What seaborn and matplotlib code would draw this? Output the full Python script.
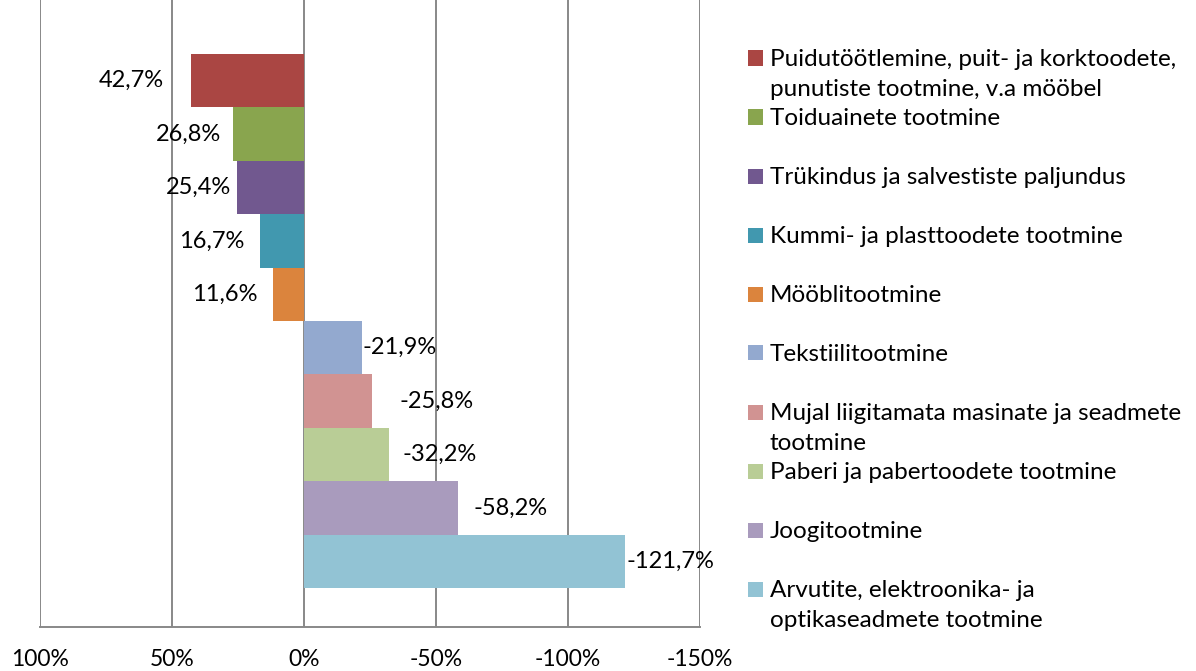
import matplotlib
matplotlib.use("Agg")
import matplotlib.pyplot as plt
import seaborn as sns
import pandas as pd
from matplotlib.patches import Rectangle

categories = [
    "Puidutöötlemine, puit- ja korktoodete,\npunutiste tootmine, v.a mööbel",
    "Toiduainete tootmine",
    "Trükindus ja salvestiste paljundus",
    "Kummi- ja plasttoodete tootmine",
    "Mööblitootmine",
    "Tekstiilitootmine",
    "Mujal liigitamata masinate ja seadmete\ntootmine",
    "Paberi ja pabertoodete tootmine",
    "Joogitootmine",
    "Arvutite, elektroonika- ja\noptikaseadmete tootmine",
]
values = [42.7, 26.8, 25.4, 16.7, 11.6, -21.9, -25.8, -32.2, -58.2, -121.7]
colors = ["#AA4643", "#89A54E", "#71588F", "#4198AF", "#DB843D",
          "#93A9CF", "#D19392", "#B9CD96", "#A99BBD", "#92C3D4"]
xticks = [100, 50, 0, -50, -100, -150]
xtick_labels = ["100%", "50%", "0%", "-50%", "-100%", "-150%"]
# label centre distance from bar end, in pixels (style)
label_offsets_px = [60, 45, 38, 48, 49, 38, 64, 51, 53, 45]

sns.set_style("white")
plt.rcParams["font.family"] = ["Lato", "DejaVu Sans"]
FS_LEG = 17.5
FS_NUM = 17
FS_TICK = 16.5

W, H = 1196, 671
fig = plt.figure(figsize=(W / 100, H / 100), dpi=100)
ax = fig.add_axes([40 / W, 44 / H, 660 / W, 627 / H])

df = pd.DataFrame({"category": categories, "value": values})
sns.barplot(data=df, x="value", y="category", hue="category",
            palette=colors, dodge=False, width=1.0, legend=False,
            orient="h", ax=ax, saturation=1, linewidth=0)

ax.set_xlim(100, -150)
ax.set_ylim(10.23, -1.51)
ax.set_xticks(xticks)
ax.set_xticklabels(xtick_labels, fontsize=FS_TICK)
ax.set_yticks([])
ax.set_xlabel("")
ax.set_ylabel("")
ax.grid(axis="x", color="#888888", linewidth=1.4)
ax.set_axisbelow(True)
for s in ["top", "left", "right"]:
    ax.spines[s].set_visible(False)
ax.spines["bottom"].set_color("#888888")
ax.spines["bottom"].set_linewidth(1.4)
ax.tick_params(axis="x", length=8, width=1.4, color="#888888",
               direction="out", pad=8, labelcolor="black")

for i, v in enumerate(values):
    txt = f"{v:.1f}".replace(".", ",") + "%"
    off = label_offsets_px[i] * 0.72
    dx = -off if v > 0 else off
    ax.annotate(txt, xy=(v, i), xytext=(dx, 0), textcoords="offset points",
                ha="center", va="center", fontsize=FS_NUM, color="black")

# manual legend (Excel style: squares aligned with first line)
for i, (cat, col) in enumerate(zip(categories, colors)):
    yc = 58 + i * 59.0
    fig.add_artist(Rectangle((748 / W, 1 - (yc + 7.5) / H), 15 / W, 15 / H,
                             transform=fig.transFigure, facecolor=col,
                             edgecolor="none"))
    for j, line in enumerate(cat.split("\n")):
        fig.text(770 / W, 1 - (yc + 8 + j * 30) / H, line, fontsize=FS_LEG,
                 ha="left", va="baseline", color="black")

fig.savefig("out.png", dpi=100)
